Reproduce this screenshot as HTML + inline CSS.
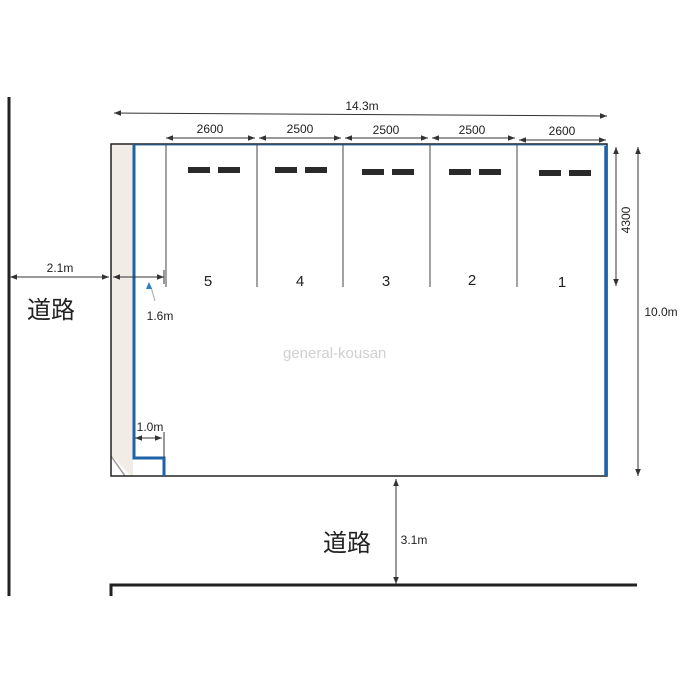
<!DOCTYPE html>
<html><head><meta charset="utf-8"><style>
html,body{margin:0;padding:0;background:#fff}
svg{display:block}
text{font-family:"Liberation Sans","Noto Sans CJK JP",sans-serif;fill:#222}
</style></head><body>
<svg width="700" height="700" viewBox="0 0 700 700" xmlns="http://www.w3.org/2000/svg">
<defs>
<marker id="a" viewBox="0 0 10 10" refX="10" refY="5" markerWidth="7" markerHeight="7" orient="auto-start-reverse"><path d="M0,1 L10,5 L0,9 z" fill="#333"/></marker>
</defs>
<!-- left road line -->
<line x1="9" y1="97" x2="9" y2="596" stroke="#222" stroke-width="3"/>
<!-- beige strip -->
<rect x="111" y="144" width="22" height="332" fill="#f1ece6"/>
<polygon points="111,455 111,476 131,476" fill="#fff"/>
<line x1="111" y1="456" x2="125" y2="476" stroke="#999" stroke-width="1.5"/>
<!-- lot outline -->
<rect x="111" y="144" width="496" height="332" fill="none" stroke="#222" stroke-width="1.5"/>
<line x1="133" y1="145" x2="606" y2="145" stroke="#3a7fc0" stroke-width="1"/>
<!-- blue wall -->
<polyline points="134,145 134,458 164,458 164,476" fill="none" stroke="#1e62a8" stroke-width="3"/>
<line x1="606" y1="146" x2="606" y2="476" stroke="#1e62a8" stroke-width="3.5"/>
<!-- dividers -->
<g stroke="#444" stroke-width="1">
<line x1="166" y1="144" x2="166" y2="287"/>
<line x1="257" y1="144" x2="257" y2="287"/>
<line x1="343" y1="144" x2="343" y2="287"/>
<line x1="430" y1="144" x2="430" y2="287"/>
<line x1="517" y1="144" x2="517" y2="287"/>
</g>
<!-- dashes -->
<g fill="#2a2a2a">
<rect x="188" y="167" width="22" height="6"/><rect x="218" y="167" width="22" height="6"/>
<rect x="275" y="167" width="22" height="6"/><rect x="305" y="167" width="22" height="6"/>
<rect x="362" y="169" width="22" height="6"/><rect x="392" y="169" width="22" height="6"/>
<rect x="449" y="169" width="22" height="6"/><rect x="479" y="169" width="22" height="6"/>
<rect x="539" y="170" width="22" height="6"/><rect x="569" y="170" width="22" height="6"/>
</g>
<g font-size="15" text-anchor="middle">
<text x="208" y="286">5</text><text x="300" y="286">4</text><text x="386" y="286">3</text><text x="472" y="285">2</text><text x="562" y="287">1</text>
</g>
<!-- dimension lines -->
<g stroke="#333" stroke-width="1" marker-start="url(#a)" marker-end="url(#a)">
<line x1="114" y1="113" x2="607" y2="116"/>
<line x1="166" y1="138" x2="255" y2="138"/>
<line x1="259" y1="138" x2="341" y2="138"/>
<line x1="345" y1="138" x2="428" y2="138"/>
<line x1="432" y1="138" x2="515" y2="138"/>
<line x1="519" y1="140" x2="606" y2="140"/>
<line x1="616" y1="147" x2="616" y2="286"/>
<line x1="638" y1="147" x2="638" y2="476"/>
<line x1="10" y1="277" x2="109" y2="277"/>
<line x1="113" y1="277" x2="164" y2="277"/>
<line x1="135" y1="438" x2="162" y2="438"/>
<line x1="396" y1="479" x2="396" y2="584"/>
</g>
<line x1="164" y1="270" x2="164" y2="284" stroke="#333"/>
<line x1="164" y1="432" x2="164" y2="458" stroke="#333"/>
<line x1="151" y1="287" x2="155" y2="301" stroke="#9ab" stroke-width="1"/>
<path d="M149,282 l-3,7 l6,0 z" fill="#2a7fc0"/>
<!-- dim labels -->
<g font-size="12" text-anchor="middle">
<text x="362" y="110">14.3m</text>
<text x="210" y="133">2600</text><text x="300" y="133">2500</text><text x="386" y="134">2500</text><text x="472" y="134">2500</text><text x="562" y="135">2600</text>
<text x="60" y="272">2.1m</text>
<text x="160" y="320">1.6m</text>
<text x="150" y="431">1.0m</text>
<text x="414" y="544">3.1m</text>
<text x="661" y="316">10.0m</text>
<text x="0" y="0" transform="translate(630,220) rotate(-90)">4300</text>
</g>
<text x="283" y="358" font-size="15" fill="#ccc" style="fill:#d0d0d0">general-kousan</text>
<text x="27" y="318" font-size="24">道路</text>
<text x="323" y="551" font-size="24">道路</text>
<!-- bottom road -->
<polyline points="111,596 111,585 637,585" fill="none" stroke="#222" stroke-width="3"/>
</svg>
</body></html>
